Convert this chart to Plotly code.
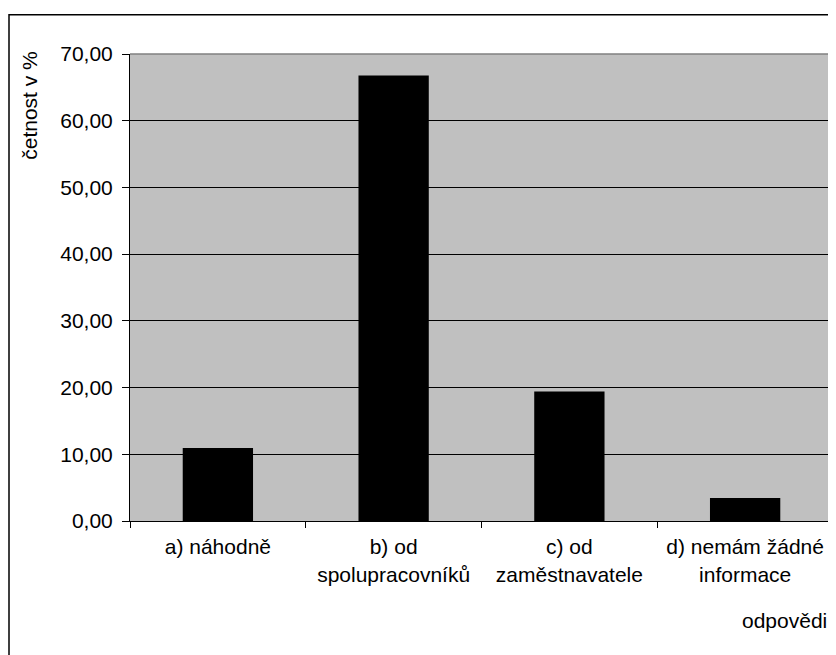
import plotly.graph_objects as go

categories = ["a) náhodně", "b) od<br>spolupracovníků", "c) od<br>zaměstnavatele", "d) nemám žádné<br>informace"]
values = [10.96, 66.79, 19.42, 3.45]
y_ticks = [0, 10, 20, 30, 40, 50, 60, 70]

# page body has an 8px margin; work in screen coords and shift
OFF = 8
W, H = 836 - OFF, 655 - OFF
L, R, T, B = 130 - OFF, 833 - OFF, 54.3 - OFF, 520.7 - OFF
pw, ph = R - L, B - T

def px(x):
    return (x - OFF - L) / pw

def py(y):
    return (B - (y - OFF)) / ph

FONT = "Liberation Sans, Arial, sans-serif"

fig = go.Figure(go.Bar(
    x=categories, y=values,
    marker=dict(color="#000000", line=dict(color="#000000", width=0)),
    width=0.4,
))

fig.update_layout(
    width=W, height=H,
    margin=dict(l=L, r=W - R, t=T, b=H - B),
    paper_bgcolor="white",
    plot_bgcolor="#C0C0C0",
    separators=", ",
    font=dict(family=FONT, size=21, color="black"),
    showlegend=False,
    xaxis=dict(
        type="category",
        tickson="boundaries",
        ticks="outside", ticklen=6, tickcolor="black", tickwidth=1,
        showline=True, linecolor="black", linewidth=1,
        showgrid=False,
        ticklabelstandoff=7,
        tickfont=dict(family=FONT, size=21),
    ),
    yaxis=dict(
        range=[0, 70], tickvals=y_ticks, tickformat=".2f",
        ticks="outside", ticklen=7, tickcolor="black", tickwidth=1,
        showline=True, linecolor="black", linewidth=1,
        showgrid=True, gridcolor="black", gridwidth=1,
        zeroline=False,
        ticklabelstandoff=5,
        tickfont=dict(family=FONT, size=21),
    ),
    shapes=[
        dict(type="line", xref="paper", yref="paper", x0=0, x1=1, y0=1, y1=1,
             line=dict(color="#808080", width=1.5), layer="above"),
        dict(type="line", xref="paper", yref="paper", x0=1, x1=1, y0=0, y1=1,
             line=dict(color="#808080", width=1.5), layer="above"),
        dict(type="rect", xref="paper", yref="paper",
             x0=px(9), x1=px(860), y0=py(15), y1=py(680),
             line=dict(color="black", width=1.5), fillcolor="rgba(0,0,0,0)"),
    ],
    annotations=[
        dict(text="četnost v %", textangle=-90, xref="paper", yref="paper",
             x=px(30), y=py(106), xanchor="center", yanchor="middle",
             showarrow=False, font=dict(family=FONT, size=21)),
        dict(text="odpovědi", xref="paper", yref="paper",
             x=px(829), y=py(620), xanchor="right", yanchor="middle",
             showarrow=False, font=dict(family=FONT, size=21)),
    ],
)

fig.write_html("out.html")
